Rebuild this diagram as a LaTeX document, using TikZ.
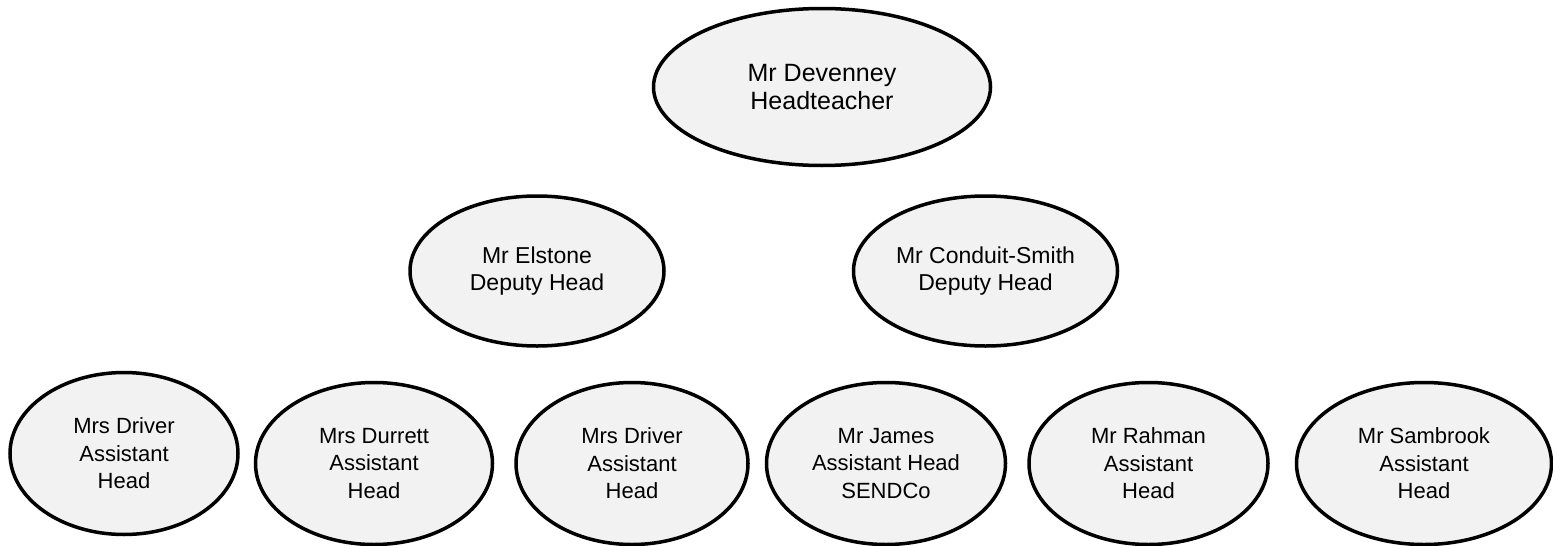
\documentclass[tikz,border=0pt]{standalone}
\usepackage{fontspec}
\setmainfont{Liberation Sans}
\usetikzlibrary{shapes.geometric, positioning}
\definecolor{bubblegray}{HTML}{F2F2F2}

\begin{document}
\begin{tikzpicture}[
  x=1pt, y=-1pt,
  every node/.style={align=center},
  bubble/.style={ellipse, draw=black, line width=3.5pt, fill=bubblegray, inner sep=0pt},
  headnode/.style={bubble, minimum width=337pt, minimum height=157pt,
    font=\fontsize{25}{28.5}\selectfont},
  deputy/.style={bubble, minimum width=254pt, minimum height=150pt,
    font=\fontsize{23}{27}\selectfont},
  assistant/.style={bubble, minimum width=230pt, minimum height=162pt,
    font=\fontsize{22}{27.5}\selectfont}
]
\useasboundingbox (0,0) rectangle (1553,546);

% top of the tree
\node[headnode] (head) at (822,87) {Mr Devenney\\Headteacher};

% deputies
\node[deputy, below=27pt of head, xshift=-285pt] (elstone) {Mr Elstone\\Deputy Head};
\node[deputy, right=186pt of elstone, minimum width=264pt] (conduit) {Mr Conduit-Smith\\Deputy Head};

% assistant heads
\node[assistant, below=23pt of elstone, xshift=-413pt, minimum width=228pt] (driverA)
  {Mrs Driver\\Assistant\\Head};
\node[assistant, right=14pt of driverA, yshift=-10pt, minimum width=237pt] (durrett)
  {Mrs Durrett\\Assistant\\Head};
\node[assistant, right=20pt of durrett, minimum width=232pt] (driverB)
  {Mrs Driver\\Assistant\\Head};
\node[assistant, right=15pt of driverB, minimum width=239pt] (james)
  {Mr James\\Assistant Head\\SENDCo};
\node[assistant, right=20pt of james, minimum width=239pt] (rahman)
  {Mr Rahman\\Assistant\\Head};
\node[assistant, right=25pt of rahman, minimum width=255pt] (sambrook)
  {Mr Sambrook\\Assistant\\Head};

\end{tikzpicture}
\end{document}
